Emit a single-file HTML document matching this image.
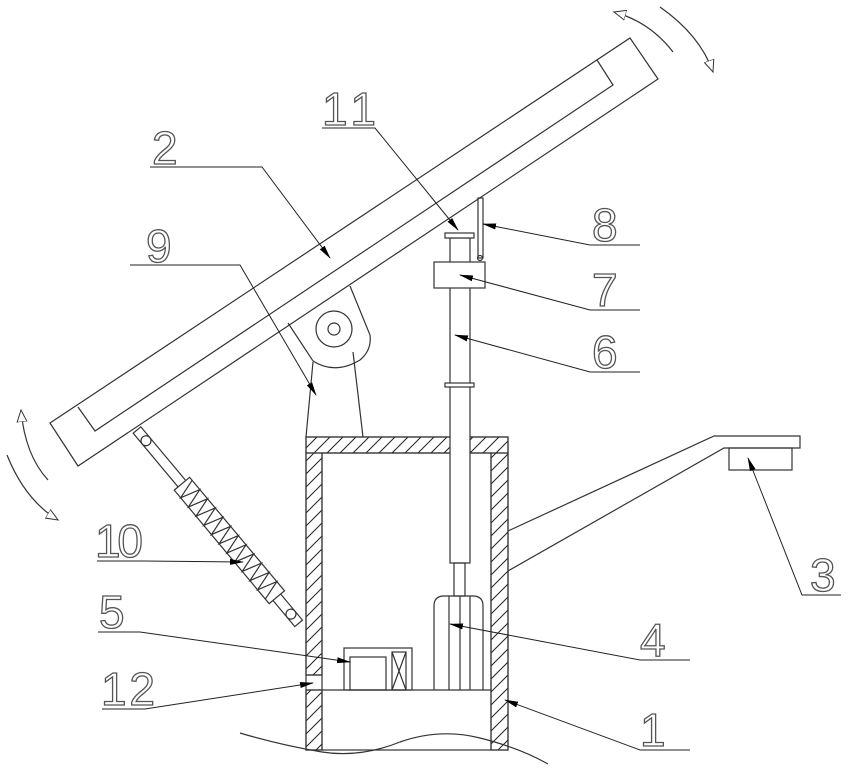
<!DOCTYPE html>
<html><head><meta charset="utf-8"><style>
html,body{margin:0;padding:0;background:#fff;}
svg{display:block;}
text{font-family:"Liberation Sans",sans-serif;font-size:46px;fill:none;stroke:#555;stroke-width:1.3;}
</style></head><body>
<svg width="848" height="774" viewBox="0 0 848 774" xmlns="http://www.w3.org/2000/svg">
<defs>
<pattern id="h" patternUnits="userSpaceOnUse" width="13" height="13">
<path d="M-2,15 L15,-2 M-2,2 L2,-2 M11,15 L15,11" stroke="#222" stroke-width="1"/>
</pattern>
<marker id="a" markerWidth="14" markerHeight="8" refX="13" refY="4" orient="auto" markerUnits="userSpaceOnUse">
<path d="M0,1 L14,4 L0,7 Z" fill="#000"/>
</marker>
<marker id="o" markerWidth="14" markerHeight="12" refX="12" refY="6" orient="auto" markerUnits="userSpaceOnUse">
<path d="M0,1 L12,6 L0,11 Z" fill="#fff" stroke="#333"/>
</marker>
</defs>
<g fill="none" stroke="#333" stroke-width="1.2">
<!-- panel -->
<polygon points="50,423 630,38 658,79 78,466" fill="#fff"/>
<polyline points="597,60 613,85 95,431 78,407"/>
<!-- rotation arrows -->
<path d="M673,52 Q650,22 614,12" marker-end="url(#o)"/>
<path d="M660,7 Q700,35 713,72" marker-end="url(#o)"/>
<path d="M48,480 Q25,455 21,410" marker-end="url(#o)"/>
<path d="M7,455 Q25,500 58,520" marker-end="url(#o)"/>
<!-- pivot bracket -->
<path d="M288,323 L313,361 Q335,375 360,360 Q372,350 370,335 L350,286"/>
<circle cx="334" cy="329" r="18"/>
<circle cx="334" cy="329" r="6"/>
<path d="M313,362 L306,437 M353,352 L363,437"/>
<!-- box -->
<rect x="306" y="437" width="202" height="16" fill="url(#h)"/>
<rect x="306" y="453" width="16" height="222" fill="url(#h)"/>
<rect x="306" y="690" width="16" height="60" fill="url(#h)"/>
<rect x="491" y="453" width="17" height="297" fill="url(#h)"/>
<rect x="306" y="437" width="202" height="313" fill="none"/>
<path d="M322,453 L322,750 M491,453 L491,750 M322,453 L491,453 M306,690 L491,690 M306,675 L322,675"/>
<rect x="450" y="430" width="20" height="26" fill="#fff" stroke="none"/>
<!-- ground -->
<path d="M240,733 Q280,745 322,752 Q360,758 400,742 Q440,728 480,738 Q520,748 548,764"/>
<!-- column -->
<rect x="450" y="238" width="20" height="325" fill="#fff"/>
<rect x="445" y="233" width="29" height="5" fill="#fff"/>
<rect x="434" y="262" width="51" height="26" fill="#fff"/>
<rect x="445" y="383" width="29" height="4" fill="#fff"/>
<rect x="454" y="563" width="11" height="33"/>
<rect x="478" y="198" width="5" height="60"/>
<circle cx="480" cy="258" r="2.5"/>
<!-- motor 4 -->
<path d="M434,690 L434,606 Q434,596 444,596 L473,596 Q483,596 483,606 L483,690 M449,596 L449,690 M460,596 L460,690 M470,596 L470,690"/>
<!-- box 5 -->
<rect x="344" y="648" width="68" height="42"/>
<rect x="350" y="657" width="36" height="33"/>
<rect x="392" y="652" width="14" height="38"/>
<path d="M392,652 L406,690 M406,652 L392,690"/>
<!-- spring 10 -->
<g transform="translate(137,430) rotate(50.1)">
<rect x="0" y="-5" width="252" height="10" fill="#fff"/>
<circle cx="14" cy="0" r="5"/>
<circle cx="240" cy="0" r="5"/>
<rect x="70" y="-10" width="148" height="20" fill="#fff"/>
<path d="M74,-10 L80,10 L86,-10 L92,10 L98,-10 L104,10 L110,-10 L116,10 L122,-10 L128,10 L134,-10 L140,10 L146,-10 L152,10 L158,-10 L164,10 L170,-10 L176,10 L182,-10 L188,10 L194,-10 L200,10 L206,-10 L212,10"/>
</g>
<!-- arm 3 -->
<path d="M508,531 L714,436 L800,436 L800,448 L724,448 L508,571"/>
<rect x="729" y="448" width="63" height="22"/>
</g>
<!-- leaders -->
<g stroke="#222" stroke-width="1" fill="none">
<path d="M322,128 L375,128 L458,230" marker-end="url(#a)"/>
<path d="M150,167 L262,167 L330,258" marker-end="url(#a)"/>
<path d="M130,265 L240,265 L316,395" marker-end="url(#a)"/>
<path d="M640,245 L590,245 L483,224" marker-end="url(#a)"/>
<path d="M640,310 L590,310 L460,275" marker-end="url(#a)"/>
<path d="M640,372 L590,372 L455,335" marker-end="url(#a)"/>
<path d="M97,561 L143,561 L243,562" marker-end="url(#a)"/>
<path d="M98,632 L140,632 L350,662" marker-end="url(#a)"/>
<path d="M102,709 L145,709 L313,683" marker-end="url(#a)"/>
<path d="M690,660 L640,660 L450,624" marker-end="url(#a)"/>
<path d="M690,750 L640,750 L505,700" marker-end="url(#a)"/>
<path d="M841,595 L802,595 L748,458" marker-end="url(#a)"/>
</g>
<!-- labels -->
<text x="322" y="125" textLength="54">11</text>
<text x="152" y="164">2</text>
<text x="146" y="262">9</text>
<text x="592" y="241">8</text>
<text x="592" y="306">7</text>
<text x="592" y="368">6</text>
<text x="95" y="557" textLength="48">10</text>
<text x="99" y="628">5</text>
<text x="101" y="705" textLength="54">12</text>
<text x="640" y="656">4</text>
<text x="640" y="746">1</text>
<text x="810" y="591">3</text>
</svg>
</body></html>
